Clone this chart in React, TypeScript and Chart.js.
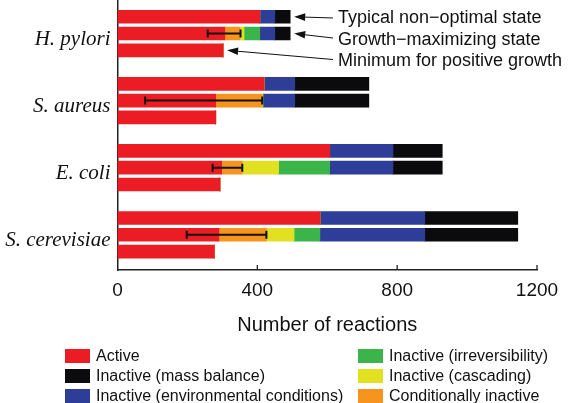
import React, { useEffect, useRef } from 'react';
import { Chart, registerables } from 'chart.js';

Chart.register(...registerables);

// ---------- data ----------
const organisms = ['H. pylori', 'S. aureus', 'E. coli', 'S. cerevisiae'];
const stateLabels = ['Typical non\u2212optimal state', 'Growth\u2212maximizing state', 'Minimum for positive growth'];
// rows per organism: typical non-optimal, growth-maximizing, minimum for positive growth
const active = [407, 307, 302, 419, 281, 281, 607, 298, 293, 579, 290, 277];
const conditionallyInactive = [0, 43, 0, 0, 133, 0, 0, 59, 0, 0, 136, 0];
const inactiveCascading = [0, 12, 0, 0, 2, 0, 0, 104, 0, 0, 79, 0];
const inactiveIrreversibility = [0, 45, 0, 0, 0, 0, 0, 146, 0, 0, 74, 0];
const inactiveEnvironmental = [43, 43, 0, 88, 91, 0, 181, 181, 0, 300, 300, 0];
const inactiveMassBalance = [44, 44, 0, 212, 212, 0, 141, 141, 0, 266, 266, 0];
// error bars on the growth-maximizing bar
const errorLow = [258, 79, 272, 198];
const errorHigh = [352, 414, 357, 426];
const xTicks = [0, 400, 800, 1200];

const seriesNames = [
  'Active',
  'Conditionally inactive',
  'Inactive (cascading)',
  'Inactive (irreversibility)',
  'Inactive (environmental conditions)',
  'Inactive (mass balance)',
];
const seriesValues = [
  active,
  conditionallyInactive,
  inactiveCascading,
  inactiveIrreversibility,
  inactiveEnvironmental,
  inactiveMassBalance,
];
const seriesColors = ['#EC1C24', '#F7941E', '#E2E121', '#3BB44A', '#2E3E98', '#0B0B0D'];

// legend layout: two columns
const legendColumns = [
  ['Active', 'Inactive (mass balance)', 'Inactive (environmental conditions)'],
  ['Inactive (irreversibility)', 'Inactive (cascading)', 'Conditionally inactive'],
];

const STATES_PER_ORG = 3;
const ROWS_PER_GROUP = 4; // 3 bars + spacer
const rowOf = (i: number) => Math.floor(i / STATES_PER_ORG) * ROWS_PER_GROUP + (i % STATES_PER_ORG);

const SANS = '"Liberation Sans", Arial, sans-serif';

const overlayPlugin = {
  id: 'overlay',
  afterDatasetsDraw(chart: any) {
    const { ctx, scales } = chart;
    const x = scales.x;
    const y = scales.y;
    ctx.save();
    // inward ticks on x axis
    ctx.strokeStyle = '#222';
    ctx.lineWidth = 1.3;
    const bottom = chart.chartArea.bottom;
    xTicks.forEach((v) => {
      if (v === 0) return;
      const px = x.getPixelForValue(v);
      ctx.beginPath();
      ctx.moveTo(px, bottom - 5);
      ctx.lineTo(px, bottom);
      ctx.stroke();
    });
    // error bars
    ctx.strokeStyle = '#111';
    ctx.lineWidth = 2;
    organisms.forEach((_, g) => {
      const yp = y.getPixelForValue(g * ROWS_PER_GROUP + 1);
      const x0 = x.getPixelForValue(errorLow[g]);
      const x1 = x.getPixelForValue(errorHigh[g]);
      ctx.beginPath();
      ctx.moveTo(x0, yp);
      ctx.lineTo(x1, yp);
      ctx.moveTo(x0, yp - 4);
      ctx.lineTo(x0, yp + 4);
      ctx.moveTo(x1, yp - 4);
      ctx.lineTo(x1, yp + 4);
      ctx.stroke();
    });
    // annotation arrows for the first organism
    const textX = 338;
    const textYs = [18, 40, 61];
    const lineEndYs = [18, 38, 59.5];
    stateLabels.forEach((label, k) => {
      const total = seriesValues.reduce((s, arr) => s + arr[k], 0);
      const tipX = x.getPixelForValue(total) + 4;
      const tipY = y.getPixelForValue(rowOf(k));
      const endX = textX - 5;
      const endY = lineEndYs[k];
      const ang = Math.atan2(endY - tipY, endX - tipX);
      const headLen = 11;
      const headW = 3.8;
      const bx = tipX + Math.cos(ang) * headLen;
      const by = tipY + Math.sin(ang) * headLen;
      ctx.strokeStyle = '#111';
      ctx.lineWidth = 1;
      ctx.beginPath();
      ctx.moveTo(bx, by);
      ctx.lineTo(endX, endY);
      ctx.stroke();
      ctx.fillStyle = '#111';
      ctx.beginPath();
      ctx.moveTo(tipX, tipY);
      ctx.lineTo(bx - Math.sin(ang) * headW, by + Math.cos(ang) * headW);
      ctx.lineTo(bx + Math.sin(ang) * headW, by - Math.cos(ang) * headW);
      ctx.closePath();
      ctx.fill();
      ctx.font = '18px ' + SANS;
      ctx.textBaseline = 'middle';
      ctx.textAlign = 'left';
      ctx.fillText(label, textX, textYs[k]);
    });
    ctx.restore();
  },
};

export default function App() {
  const canvasRef = useRef<HTMLCanvasElement | null>(null);

  useEffect(() => {
    if (!canvasRef.current) return;
    const datasets = seriesNames.map((name, s) => ({
      label: name,
      data: seriesValues[s].map((v, i) => ({ x: v, y: rowOf(i) })),
      backgroundColor: seriesColors[s],
      borderWidth: 0,
      barThickness: 13,
      stack: 'all',
    }));
    const maxRow = rowOf(organisms.length * STATES_PER_ORG - 1);
    const chart = new Chart(canvasRef.current, {
      type: 'bar',
      data: { datasets },
      options: {
        indexAxis: 'y',
        animation: false,
        responsive: false,
        maintainAspectRatio: false,
        layout: { padding: { left: 0, right: 35, top: 0, bottom: 58 } },
        plugins: { legend: { display: false }, tooltip: { enabled: false } },
        scales: {
          x: {
            type: 'linear',
            stacked: true,
            min: 0,
            max: 1200,
            afterBuildTicks: (scale: any) => {
              scale.ticks = xTicks.map((v) => ({ value: v }));
            },
            afterFit: (scale: any) => {
              scale.height = 75;
            },
            grid: { display: false, drawTicks: false },
            border: { display: true, color: '#222', width: 1.5 },
            ticks: {
              color: '#111',
              padding: 9,
              font: { family: SANS, size: 19 },
              callback: (v: any) => String(v),
            },
            title: {
              display: true,
              text: 'Number of reactions',
              color: '#111',
              font: { family: SANS, size: 20 },
              padding: { top: 4, bottom: 8 },
            },
          },
          y: {
            type: 'linear',
            reverse: true,
            offset: false,
            bounds: 'data',
            min: -1,
            max: maxRow + 1.1,
            afterBuildTicks: (scale: any) => {
              scale.ticks = organisms.map((_, g) => ({ value: g * ROWS_PER_GROUP + 1.35 }));
            },
            afterFit: (scale: any) => {
              scale.width = 117.5;
              scale.paddingTop = 0;
              scale.paddingBottom = 0;
            },
            grid: { display: false, drawTicks: false, offset: false },
            border: { display: true, color: '#222', width: 1.5 },
            ticks: {
              autoSkip: false,
              color: '#111',
              padding: 7,
              font: { family: '"Liberation Serif", "Times New Roman", serif', style: 'italic', size: 21 },
              callback: (_v: any, index: number) => organisms[index],
            },
          },
        },
      },
      plugins: [overlayPlugin],
    } as any);
    return () => chart.destroy();
  }, []);

  const colorOf = (name: string) => seriesColors[seriesNames.indexOf(name)];
  const colLeft = [65, 358];
  const rowCenters = [356, 376, 396];

  return (
    <div style={{ position: 'absolute', left: 0, top: 0, width: 572, height: 403, background: '#fff' }}>
      <canvas ref={canvasRef} width={572} height={403} style={{ display: 'block', width: 572, height: 403 }} />
      {legendColumns.map((col, c) =>
        col.map((name, r) => (
          <div
            key={name}
            style={{
              position: 'absolute',
              left: colLeft[c],
              top: rowCenters[r] - 10,
              height: 20,
              display: 'flex',
              alignItems: 'center',
              whiteSpace: 'nowrap',
              fontFamily: SANS,
              fontSize: 16,
              color: '#111',
            }}
          >
            <span
              style={{
                display: 'inline-block',
                width: 25,
                height: 14,
                background: colorOf(name),
                marginRight: 6,
              }}
            />
            <span>{name}</span>
          </div>
        ))
      )}
    </div>
  );
}
